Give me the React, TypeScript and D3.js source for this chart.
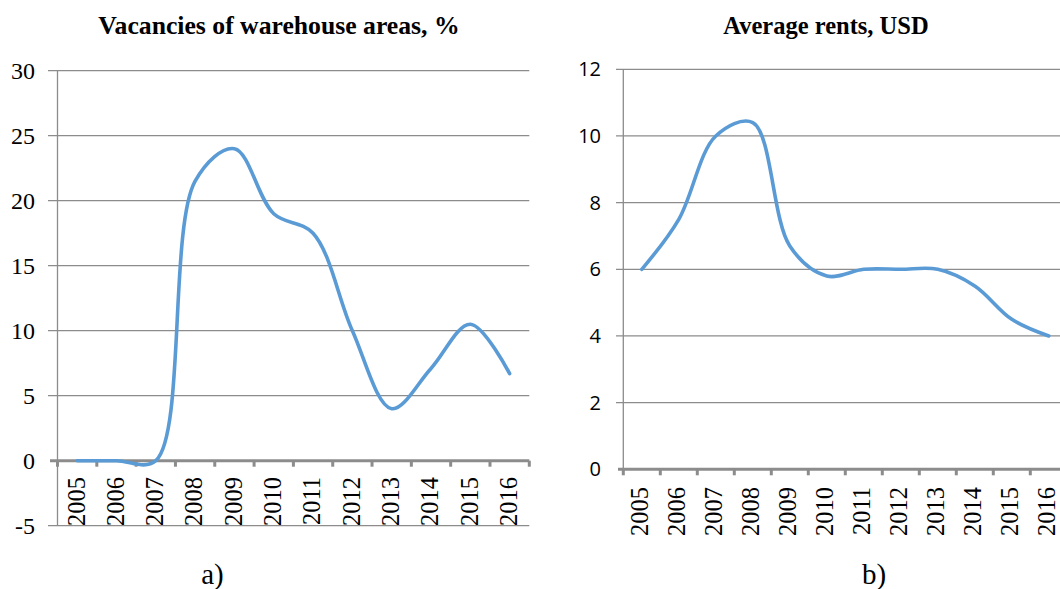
import React from "react";
import * as d3 from "d3";

// Years shared by both panels
const years = ["2005", "2006", "2007", "2008", "2009", "2010", "2011", "2012", "2013", "2014", "2015", "2016"];

// Panel a) vacancies of warehouse areas, %
const vacancyValues = [0, 0, 0, 21.5, 24, 19, 17.5, 10, 4, 7.1, 10.5, 6.7];
const vacancyTicks = [-5, 0, 5, 10, 15, 20, 25, 30];

// Panel b) average rents, USD
const rentValues = [6, 7.5, 10, 10.4, 6.7, 5.8, 6, 6, 6, 5.5, 4.5, 4];
const rentTicks = [0, 2, 4, 6, 8, 10, 12];

const W = 1060;
const H = 589;
const LINE = "#5B9BD5";
const GRID = "#8c8c8c";
const SERIF = "'Liberation Serif', 'Times New Roman', serif";
const SANS = "'Open Sans', 'Liberation Sans', sans-serif";

type PanelProps = {
  title: string;
  titleSize: number;
  caption: string;
  values: number[];
  ticks: number[];
  x0: number;
  x1: number;
  yTop: number;
  yBottom: number;
  tickLeft: number;
  labelRight: number;
  yLabelFont: string;
  yLabelSize: number;
  xLabelTop: number;
  xLabelShift: string;
  titleX: number;
  captionX: number;
};

function Panel(p: PanelProps) {
  const x = d3.scaleBand<string>().domain(years).range([p.x0, p.x1]).padding(0);
  const lo = d3.min(p.ticks)!;
  const hi = d3.max(p.ticks)!;
  const y = d3.scaleLinear().domain([lo, hi]).range([p.yBottom, p.yTop]);
  const cx = (yr: string) => (x(yr) ?? 0) + x.bandwidth() / 2;
  const line = d3
    .line<number>()
    .x((_, i) => cx(years[i]))
    .y((v) => y(v))
    .curve(d3.curveCatmullRom.alpha(0.5));
  const zeroY = y(0);
  const boundaries = years.map((yr) => x(yr) ?? 0).concat([p.x1]);

  return (
    <g>
      <text
        x={p.titleX}
        y={34}
        textAnchor="middle"
        fontFamily={SERIF}
        fontWeight="bold"
        fontSize={p.titleSize}
        fill="#000"
      >
        {p.title}
      </text>
      {/* horizontal gridlines */}
      {p.ticks
        .filter((t) => t !== 0)
        .map((t) => (
          <line
            key={"g" + t}
            x1={p.tickLeft}
            x2={p.x1}
            y1={y(t)}
            y2={y(t)}
            stroke={GRID}
            strokeWidth={1.3}
          />
        ))}
      {/* vertical value axis */}
      <line x1={p.x0} x2={p.x0} y1={p.yTop} y2={p.yBottom} stroke={GRID} strokeWidth={1.3} />
      {/* category axis at zero */}
      <line x1={p.tickLeft + 2} x2={p.x1} y1={zeroY} y2={zeroY} stroke={GRID} strokeWidth={3} />
      {boundaries.map((bx, i) => (
        <line key={"t" + i} x1={bx} x2={bx} y1={zeroY} y2={zeroY + 6} stroke={GRID} strokeWidth={3} />
      ))}
      {/* value labels */}
      {p.ticks.map((t) => (
        <text
          key={"yl" + t}
          x={p.labelRight}
          y={y(t)}
          dy="0.35em"
          textAnchor="end"
          fontFamily={p.yLabelFont}
          fontSize={p.yLabelSize}
          fill="#000"
        >
          {t}
        </text>
      ))}
      {/* year labels */}
      {years.map((yr) => (
        <text
          key={"xl" + yr}
          transform={`translate(${cx(yr)},${p.xLabelTop}) rotate(-90)`}
          dy={p.xLabelShift}
          textAnchor="end"
          fontFamily={SERIF}
          fontSize={24.5}
          fill="#000"
        >
          {yr}
        </text>
      ))}
      <path
        d={line(p.values) ?? ""}
        fill="none"
        stroke={LINE}
        strokeWidth={3.6}
        strokeLinejoin="round"
        strokeLinecap="round"
      />
      <text x={p.captionX} y={584} textAnchor="middle" fontFamily={SERIF} fontSize={29} fill="#000">
        {p.caption}
      </text>
    </g>
  );
}

export default function App() {
  return (
    <svg
      width={W}
      height={H}
      viewBox={`0 0 ${W} ${H}`}
      style={{ position: "absolute", left: 0, top: 0, background: "#fff" }}
    >
      <rect width={W} height={H} fill="#fff" />
      <Panel
        title="Vacancies of warehouse areas, %"
        titleSize={25.7}
        caption="a)"
        values={vacancyValues}
        ticks={vacancyTicks}
        x0={57.5}
        x1={529.3}
        yTop={70.7}
        yBottom={525.7}
        tickLeft={48}
        labelRight={35}
        yLabelFont={SERIF}
        yLabelSize={24}
        xLabelTop={477}
        xLabelShift="0.3em"
        titleX={279}
        captionX={212.5}
      />
      <Panel
        title="Average rents, USD"
        titleSize={24.5}
        caption="b)"
        values={rentValues}
        ticks={rentTicks}
        x0={623.3}
        x1={1067.3}
        yTop={69.3}
        yBottom={469.3}
        tickLeft={616}
        labelRight={601}
        yLabelFont={SANS}
        yLabelSize={20}
        xLabelTop={487}
        xLabelShift="0.24em"
        titleX={826}
        captionX={874}
      />
    </svg>
  );
}
